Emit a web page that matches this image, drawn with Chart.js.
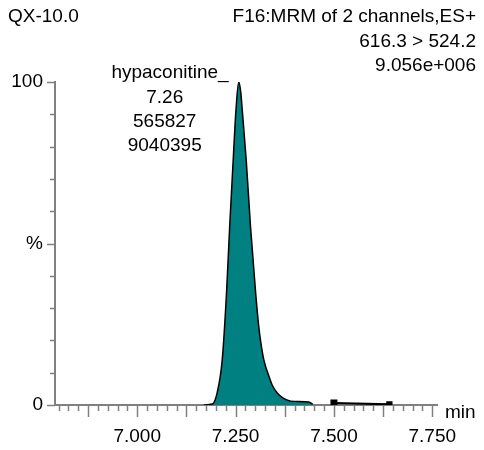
<!DOCTYPE html>
<html>
<head>
<meta charset="utf-8">
<script src="https://cdn.jsdelivr.net/npm/chart.js@4.4.1/dist/chart.umd.min.js"></script>
<style>
  html, body { margin: 0; padding: 0; background: #fff; }
</style>
</head>
<body>
<canvas id="chart-area" width="484" height="450"></canvas>
<script>
// peak trace (retention time in min, relative intensity %)
const times = [7.169, 7.191, 7.203, 7.216, 7.227, 7.235, 7.244, 7.251, 7.258, 7.263, 7.267, 7.277, 7.288, 7.301, 7.309, 7.314, 7.322, 7.335, 7.343, 7.356, 7.370, 7.390, 7.436, 7.446];
const intensity = [0, 0.3, 3.7, 13.9, 34.7, 55.2, 75.9, 91.3, 100, 97, 91.3, 75.9, 55.2, 34.7, 24.2, 19.5, 13.9, 8.8, 6.2, 3.7, 2.2, 1.2, 0.9, 0.2];

// baseline markers to the right of the peak
const markTimes = [7.500, 7.641];
const markValues = [0.6, 0.2];

const xTickLabels = [7.000, 7.250, 7.500, 7.750];
const yTickLabels = { 0: '0', 50: '%', 100: '100' };

const header = 'QX-10.0';
const channelInfo = ['F16:MRM of 2 channels,ES+', '616.3 > 524.2', '9.056e+006'];
const peakInfo = ['hypaconitine', '7.26', '565827', '9040395'];

const FONT = '19px "Liberation Sans", Arial, sans-serif';
const GREY = '#808080';

const near = (v, step) => Math.abs(v / step - Math.round(v / step)) < 1e-6;

const ticksAndText = {
  id: 'ticksAndText',
  afterDraw(chart) {
    const c = chart.ctx;
    const xs = chart.scales.x, ys = chart.scales.y;
    c.save();
    c.strokeStyle = GREY;
    c.lineWidth = 1.5;
    // x tick marks
    xs.ticks.forEach(t => {
      const px = Math.round(xs.getPixelForValue(t.value)) + 0.5;
      const len = near(t.value, 0.125) ? 12 : 6;
      c.beginPath();
      c.moveTo(px, xs.top);
      c.lineTo(px, xs.top + len);
      c.stroke();
    });
    // y tick marks
    ys.ticks.forEach(t => {
      const py = Math.round(ys.getPixelForValue(t.value)) + 0.5;
      const len = (t.value % 50 === 0) ? 8 : 5;
      c.beginPath();
      c.moveTo(ys.right, py);
      c.lineTo(ys.right - len, py);
      c.stroke();
    });

    c.fillStyle = '#000';
    c.font = FONT;
    c.textBaseline = 'middle';
    c.textAlign = 'left';
    c.fillText(header, 8, 17);
    c.textAlign = 'right';
    channelInfo.forEach((s, i) => c.fillText(s, 476, 17 + i * 24.3));

    // peak label, placed from the apex position
    const iMax = intensity.indexOf(Math.max(...intensity));
    const cx = xs.getPixelForValue(times[iMax]) - 74;
    const top = ys.getPixelForValue(100) - 9;
    c.textAlign = 'left';
    const w = c.measureText(peakInfo[0]).width;
    c.fillText(peakInfo[0] + '_', cx - w / 2, top);
    c.textAlign = 'center';
    for (let i = 1; i < peakInfo.length; i++) {
      c.fillText(peakInfo[i], cx, top + i * 24.3);
    }

    c.textAlign = 'left';
    c.textBaseline = 'alphabetic';
    c.fillText('min', xs.right + 8, xs.top + 13);
    c.restore();
  }
};

var ctx = document.getElementById('chart-area').getContext('2d');
var myChart = new Chart(ctx, {
  type: 'line',
  data: {
    datasets: [
      {
        data: times.map((t, i) => ({ x: t, y: intensity[i] })),
        borderColor: '#000',
        borderWidth: 1.5,
        backgroundColor: '#008080',
        fill: 'origin',
        pointRadius: 0,
        cubicInterpolationMode: 'monotone'
      },
      {
        data: markTimes.map((t, i) => ({ x: t, y: markValues[i] })),
        borderColor: '#000',
        borderWidth: 2,
        backgroundColor: '#000',
        pointStyle: 'rect',
        pointRadius: [3.5, 3],
        pointBackgroundColor: '#000',
        fill: false
      }
    ]
  },
  options: {
    responsive: false,
    animation: false,
    layout: { padding: { top: 82, right: 47, left: 0, bottom: 0 } },
    plugins: { legend: { display: false }, tooltip: { enabled: false } },
    scales: {
      x: {
        type: 'linear',
        min: 6.791,
        max: 7.762,
        grid: { display: false },
        border: { color: GREY, width: 2 },
        afterBuildTicks: scale => {
          const out = [];
          for (let k = Math.ceil(scale.min / 0.025); k * 0.025 <= scale.max + 1e-9; k++) {
            out.push({ value: Math.round(k * 25) / 1000 });
          }
          scale.ticks = out;
        },
        afterFit: scale => { scale.height = 45; },
        ticks: {
          autoSkip: false,
          maxRotation: 0,
          padding: 12,
          color: '#000',
          font: { family: '"Liberation Sans", Arial, sans-serif', size: 19 },
          callback: v => xTickLabels.some(l => Math.abs(l - v) < 1e-6) ? v.toFixed(3) : ''
        }
      },
      y: {
        min: 0,
        max: 100,
        grid: { display: false },
        border: { color: GREY, width: 2 },
        afterBuildTicks: scale => {
          const out = [];
          for (let v = 0; v <= 100; v += 10) out.push({ value: v });
          scale.ticks = out;
        },
        afterFit: scale => { scale.width = 55; },
        ticks: {
          autoSkip: false,
          padding: 4,
          color: '#000',
          font: { family: '"Liberation Sans", Arial, sans-serif', size: 19 },
          callback: v => yTickLabels[v] !== undefined ? yTickLabels[v] : ''
        }
      }
    }
  },
  plugins: [ticksAndText]
});
</script>
</body>
</html>
